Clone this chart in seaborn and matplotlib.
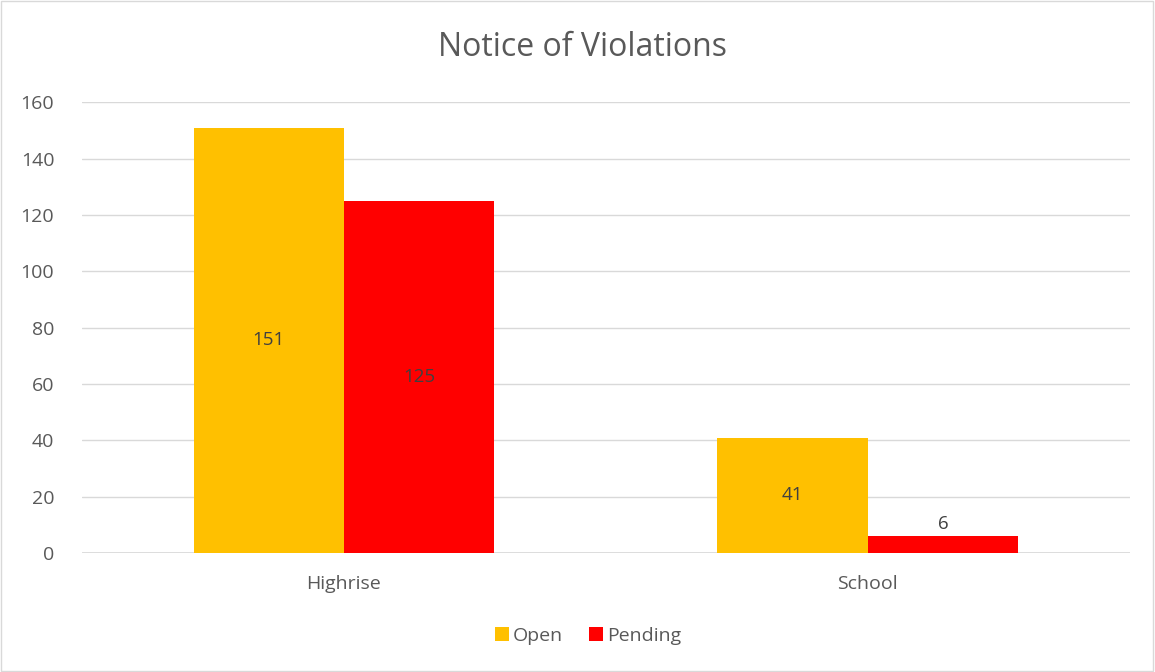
import pandas as pd
import matplotlib.pyplot as plt
import seaborn as sns
from matplotlib.patches import Rectangle

# dados do gráfico
categorias = ['Highrise', 'School']
aberto = [151, 41]
pendente = [125, 6]
series = ['Open', 'Pending']
cores = ['#FFC000', '#FF0000']

df = pd.DataFrame({
    'Categoria': categorias * 2,
    'Status': [series[0]] * 2 + [series[1]] * 2,
    'Valor': aberto + pendente,
})

sns.set_theme(style="white")
plt.rcParams['font.family'] = ['Open Sans', 'DejaVu Sans']
texto = '#595959'

fig = plt.figure(figsize=(11.55, 6.72), dpi=100)
ax = fig.add_axes([0.071, 0.177, 0.907, 0.671])

sns.barplot(data=df, x='Categoria', y='Valor', hue='Status', palette=cores,
            width=0.574, saturation=1, ax=ax, legend=True, linewidth=0, edgecolor='none')

# rótulos: centro da barra, ou acima se a barra for baixa
for cont in ax.containers:
    for barra in cont:
        h = barra.get_height()
        cx = barra.get_x() + barra.get_width() / 2
        if h < 15:
            ax.text(cx, h + 1.2, f'{int(h)}', ha='center', va='bottom', fontsize=13.5, color='#404040')
        else:
            ax.text(cx, h / 2, f'{int(h)}', ha='center', va='center', fontsize=13.5, color='#404040')

ax.set_ylim(0, 160)
ax.set_yticks(range(0, 161, 20))
ax.set_xlim(-0.5, 1.5)
ax.yaxis.grid(True, color='#d9d9d9', linewidth=1)
ax.set_axisbelow(True)
for s in ax.spines.values():
    s.set_visible(False)
ax.axhline(0, color='#d9d9d9', linewidth=1.2, zorder=0)
ax.set_xlabel('')
ax.set_ylabel('')
ax.tick_params(axis='both', colors=texto, labelsize=14, length=0)
ax.tick_params(axis='y', pad=20)
ax.tick_params(axis='x', pad=16)

fig.text(0.504, 0.93, 'Notice of Violations', fontsize=23, color=texto, ha='center', va='center')

leg = ax.legend(loc='upper center', bbox_to_anchor=(0.483, -0.125), ncol=2, frameon=False,
                fontsize=14, handlelength=0.75, handleheight=0.75, handletextpad=0.2,
                columnspacing=1.3)
for t in leg.get_texts():
    t.set_color(texto)

fig.patches.append(Rectangle((0.001, 0.001), 0.997, 0.997, transform=fig.transFigure,
                             fill=False, edgecolor='#d9d9d9', linewidth=1))

fig.savefig('out.png', dpi=100)
